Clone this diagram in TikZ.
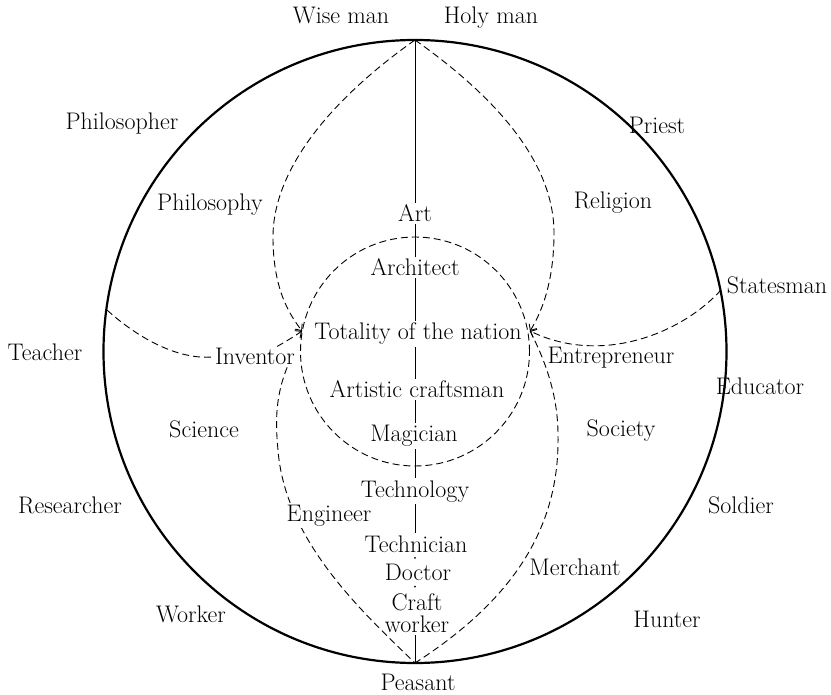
\documentclass[tikz,border=0pt]{standalone}
\usepackage{fontspec}
\usetikzlibrary{arrows.meta,calc}
\begin{document}
\begin{tikzpicture}[x=1pt,y=-1pt,
  lab/.style={font=\fontsize{24}{22.5}\selectfont, inner sep=2pt, anchor=base},
  dsh/.style={dash pattern=on 7pt off 4pt, line width=0.9pt},
  solidline/.style={line width=0.9pt},
  arr/.style={-{Straight Barb[length=5pt,width=9pt]}}]
\useasboundingbox (0,0) rectangle (831,695);
% key points
\coordinate (O) at (415,351.5);
\coordinate (top) at (415,40);
\coordinate (bot) at (415,663);
\coordinate (tl) at (302,331);
\coordinate (tr) at (530,331);
\coordinate (te) at (107,310);
\coordinate (st) at (721,290);
% circles
\draw[line width=2.2pt] (O) circle[radius=311.5pt];
\draw[dsh] (O) circle[radius=114.5pt];
% labels
\node[lab] (wise) at (341,24) {Wise man};
\node[lab] (holy) at (491,24) {Holy man};
\node[lab] (philosopher) at (122,130) {Philosopher};
\node[lab] (priest) at (657,134) {Priest};
\node[lab] (philosophy) at (210,211) {Philosophy};
\node[lab] (religion) at (613,209) {Religion};
\node[lab] (art) at (415,222) {Art};
\node[lab] (architect) at (415,276) {Architect};
\node[lab] (statesman) at (777,294) {Statesman};
\node[lab] (totality) at (418,340) {Totality of the nation};
\node[lab] (teacher) at (45,361) {Teacher};
\node[lab] (inventor) at (255,365) {Inventor};
\node[lab] (entre) at (611,364) {Entrepreneur};
\node[lab] (educator) at (760,395) {Educator};
\node[lab] (artistic) at (417,398) {Artistic craftsman};
\node[lab] (science) at (204,437) {Science};
\node[lab] (society) at (621,436) {Society};
\node[lab] (magician) at (414,442) {Magician};
\node[lab] (technology) at (415,497) {Technology};
\node[lab] (researcher) at (70,513) {Researcher};
\node[lab] (soldier) at (741,513) {Soldier};
\node[lab] (technician) at (416,552) {Technician};
\node[lab] (doctor) at (418,580) {Doctor};
\node[lab] (merchant) at (575,575) {Merchant};
\node[lab,align=center,anchor=center] (craft) at (417,613) {Craft\\worker};
\node[lab] (worker) at (191,622) {Worker};
\node[lab] (hunter) at (667,627) {Hunter};
\node[lab] (peasant) at (418,690) {Peasant};
% vertical axis
\draw[solidline] (top) -- (art.north -| top);
\draw[solidline] (art.south -| top) -- (architect.north -| top);
\draw[solidline] (architect.south -| top) -- (totality.north -| top);
\draw[solidline] (totality.south -| top) -- (artistic.north -| top);
\draw[solidline] (artistic.south -| top) -- (magician.north -| top);
\draw[solidline] (magician.south -| top) -- (technology.north -| top);
\draw[solidline] (technology.south -| top) -- (technician.north -| top);
\fill ($(technician.south -| top)!0.5!(doctor.north -| top)$) circle[radius=1pt];
\fill ($(doctor.south -| top)!0.5!(craft.north -| top)$) circle[radius=1pt];
\draw[solidline] (craft.south -| top) -- (bot);
% dashed curves
\draw[dsh,arr] (top) .. controls (330,100) and (273,170) .. (273,237) .. controls (273,290) and (290,315) .. (tl);
\draw[dsh,arr] (top) .. controls (500,100) and (554,165) .. (554,233) .. controls (554,285) and (540,315) .. (tr);
\draw[dsh] (te) .. controls (140,340) and (180,360) .. (inventor.west);
\draw[dsh,arr] ([xshift=-20pt]inventor.north east) .. controls (285,342) and (295,336) .. (tl);
\draw[dsh,arr] (st) .. controls (680,335) and (600,365) .. (tr);
\draw[dsh] (tr) .. controls (545,360) and (558,395) .. (558,435) .. controls (560,535) and (505,605) .. (bot);
\draw[dsh] ([xshift=-10pt]inventor.south east) .. controls (276,395) and (275,420) .. (278,450) .. controls (285,540) and (360,610) .. (bot);
\node[lab,fill=white] (engineer) at (329,521) {Engineer};
\end{tikzpicture}
\end{document}
